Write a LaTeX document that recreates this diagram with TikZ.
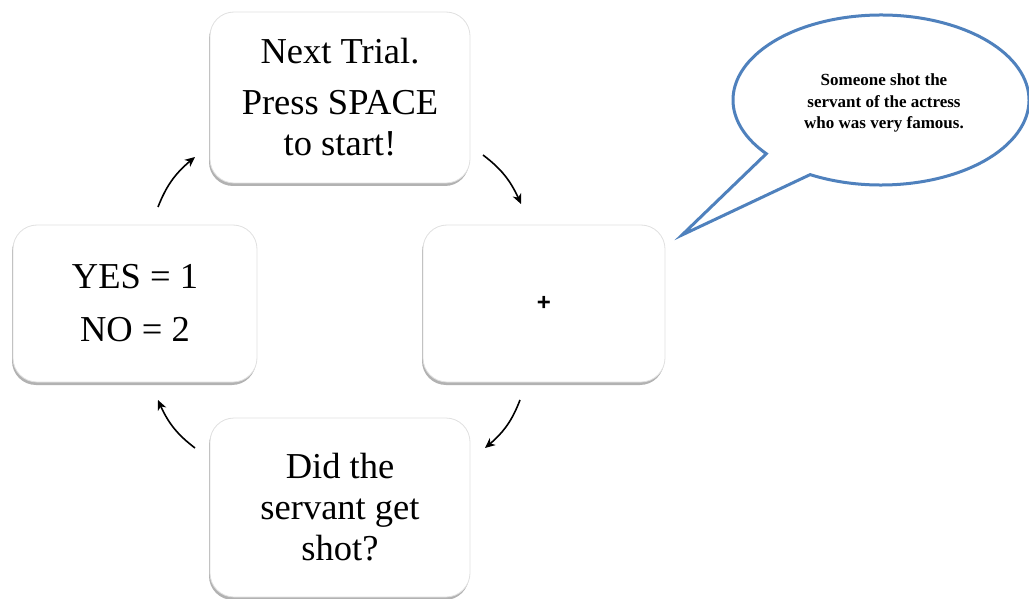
\documentclass[tikz,border=0pt]{standalone}
\usepackage{fontspec}
\setmainfont{Liberation Serif}
\newfontfamily\plusfont{Liberation Sans}
\usetikzlibrary{shadows,arrows.meta,bending}
\definecolor{bubbleblue}{RGB}{79,129,189}
\begin{document}
\begin{tikzpicture}[x=1pt,y=-1pt,
  card/.style={draw=black!12, line width=0.8pt, fill=white, rounded corners=24pt,
    align=center, inner sep=0pt, font=\fontsize{36.5}{41}\selectfont,
    drop shadow={shadow xshift=-1pt, shadow yshift=-3pt, opacity=0.5, fill=black!60}},
  flow/.style={line width=1.6pt, -{Stealth[length=10pt,width=9pt,inset=3pt]}, bend left=15},
  bubble/.style={draw=bubbleblue, line width=3pt, line join=miter, fill=white},
]
\useasboundingbox (0,0) rectangle (1029,599);

\node[card, minimum width=260pt, minimum height=171pt] (trial) at (340,97.5)
  {Next Trial.\\[10pt]Press SPACE\\to start!};
\node[card, minimum width=242pt, minimum height=157pt,
  font=\plusfont\bfseries\fontsize{24}{24}\selectfont] (fix) at (544,303.5) {+};
\node[card, minimum width=244pt, minimum height=157pt] (resp) at (135,303.5)
  {YES = 1\\[12pt]NO = 2};
\node[card, minimum width=260pt, minimum height=179pt] (quest) at (340,507.5)
  {Did the\\servant get\\shot?};

% speech bubble
\path[bubble] (881,100) ++(118.6:148 and 85) coordinate (tailB)
  arc[start angle=118.6, end angle=-219.2, x radius=148, y radius=85] coordinate (tailA)
  -- (682,235) coordinate (tip) -- cycle;
\node[font=\bfseries\fontsize{17}{21.5}\selectfont, align=center] (quote) at (884,103)
  {Someone shot the\\servant of the actress\\who was very famous.};

% cycle arrows
\coordinate (a1s) at (158,207); \coordinate (a1e) at (195,157);
\coordinate (a2s) at (483,155); \coordinate (a2e) at (521,204);
\coordinate (a3s) at (520,400); \coordinate (a3e) at (485,448);
\coordinate (a4s) at (195,448); \coordinate (a4e) at (158,400);
\draw[flow] (a1s) to (a1e);
\draw[flow] (a2s) to (a2e);
\draw[flow] (a3s) to (a3e);
\draw[flow] (a4s) to (a4e);
\end{tikzpicture}
\end{document}
